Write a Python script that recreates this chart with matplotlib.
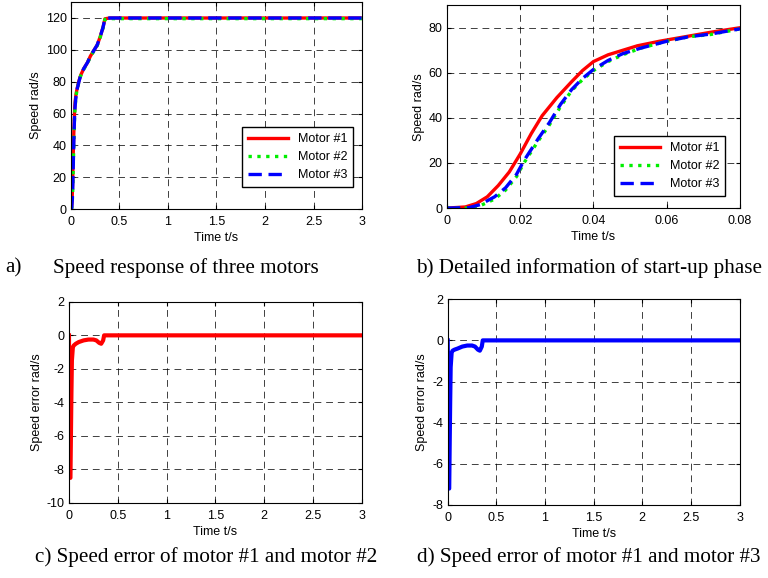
import numpy as np
import matplotlib.pyplot as plt

# start-up phase, motor #1 and motors #2/#3
t_m1 = [0, 0.005, 0.008, 0.011, 0.014, 0.017, 0.02, 0.023, 0.026, 0.03, 0.034, 0.037, 0.04,
        0.044, 0.048, 0.052, 0.058, 0.065, 0.072, 0.08]
v_m1 = [0, 0.5, 2, 5, 10, 16, 24, 33, 41, 49, 56, 61, 65, 68, 70, 72, 74, 76, 78, 80]
t_m2 = [0, 0.006, 0.009, 0.013, 0.016, 0.019, 0.021, 0.025, 0.028, 0.031, 0.034, 0.037, 0.04,
        0.044, 0.048, 0.053, 0.06, 0.066, 0.072, 0.08]
v_m2 = [0, 0, 1, 4, 8, 14, 20, 30, 37, 45, 52, 57, 61, 65, 68, 71, 74, 76, 77, 79.5]
v_m3 = [0, 0.2, 1.5, 5, 9, 15, 21, 31, 38, 46, 52.5, 57.5, 61.5, 65.5, 68.5, 71, 74, 76, 77.2, 79.5]

# rest of the run (panel a)
t_tail = [0.1, 0.13, 0.17, 0.2, 0.23, 0.27, 0.3, 0.33, 0.35, 0.4, 1, 2, 3]
v_tail = [84, 88, 92, 96, 99, 103, 108, 114, 119.5, 120, 120, 120, 120]

# speed errors (panels c and d)
t_err = [0, 0.003, 0.008, 0.015, 0.02, 0.025, 0.03, 0.04, 0.05, 0.07, 0.1, 0.15, 0.2, 0.25,
         0.28, 0.31, 0.33, 0.35, 0.36, 0.4, 1, 2, 3]
e_c = [0, -3, -8.5, -8.5, -6, -3.5, -1.5, -0.7, -0.6, -0.5, -0.4, -0.3, -0.25, -0.25,
       -0.3, -0.45, -0.5, -0.3, 0, 0, 0, 0, 0]
e_d = [0, -2, -7.2, -7.2, -5, -3, -1.3, -0.6, -0.5, -0.45, -0.4, -0.3, -0.25, -0.25,
       -0.3, -0.45, -0.5, -0.3, 0, 0, 0, 0, 0]

plt.rcParams['font.family'] = ['Liberation Sans', 'DejaVu Sans']
plt.rcParams['font.size'] = 9
plt.rcParams['axes.unicode_minus'] = False


def style(ax):
    ax.grid(True, color='black', linestyle=(0, (7, 5)), linewidth=0.7, alpha=0.75)
    ax.tick_params(direction='in', top=True, right=True, length=3, labelsize=9, pad=3)
    ax.tick_params(axis='x', pad=5)
    for s in ax.spines.values():
        s.set_linewidth(0.8)


fig = plt.figure(figsize=(7.68, 5.78), dpi=100)
leg = dict(fancybox=False, edgecolor='black', framealpha=1, handlelength=3.2,
           fontsize=9, borderpad=0.45, labelspacing=0.5, borderaxespad=0)
xt3 = ['0', '0.5', '1', '1.5', '2', '2.5', '3']

# a) full speed response
ax1 = fig.add_axes([0.0924, 0.6384, 0.379, 0.358])
ax1.plot(t_m1 + t_tail, v_m1 + v_tail, color='red', lw=2.4, label='Motor #1')
ax1.plot(t_m2 + t_tail, v_m2 + [v - 0.4 for v in v_tail], color='#00ee00', lw=2.4, ls=':', label='Motor #2')
ax1.plot(t_m2 + t_tail, v_m3 + v_tail, color='blue', lw=2.4, ls='--', dashes=(4, 2), label='Motor #3')
ax1.set_xlim(0, 3)
ax1.set_ylim(0, 130)
ax1.set_yticks(np.arange(0, 121, 20))
ax1.set_xticks(np.arange(0, 3.01, 0.5))
ax1.set_xticklabels(xt3)
ax1.set_xlabel('Time t/s', labelpad=3)
ax1.set_ylabel('Speed rad/s', labelpad=3)
style(ax1)
ax1.legend(loc='lower right', bbox_to_anchor=(0.969, 0.106), **leg)

# b) start-up detail
ax2 = fig.add_axes([0.582, 0.640, 0.3815, 0.351])
ax2.plot(t_m1, v_m1, color='red', lw=2.4, label='Motor #1')
ax2.plot(t_m2, v_m2, color='#00ee00', lw=2.4, ls=':', label='Motor #2')
ax2.plot(t_m2, v_m3, color='blue', lw=2.4, ls='--', dashes=(4, 2), label='Motor #3')
ax2.set_xlim(0, 0.08)
ax2.set_ylim(0, 90)
ax2.set_yticks([0, 20, 40, 60, 80])
ax2.set_xticks([0, 0.02, 0.04, 0.06, 0.08])
ax2.set_xticklabels(['0', '0.02', '0.04', '0.06', '0.08'])
ax2.set_xlabel('Time t/s', labelpad=3)
ax2.set_ylabel('Speed rad/s', labelpad=3)
style(ax2)
ax2.legend(loc='lower right', bbox_to_anchor=(0.949, 0.059), **leg)

# c) speed error, motor 1 vs 2
ax3 = fig.add_axes([0.0898, 0.1298, 0.3815, 0.348])
ax3.plot(t_err, e_c, color='red', lw=3)
ax3.set_xlim(0, 3)
ax3.set_ylim(-10, 2)
ax3.set_yticks(np.arange(-10, 3, 2))
ax3.set_xticks(np.arange(0, 3.01, 0.5))
ax3.set_xticklabels(xt3)
ax3.set_xlabel('Time t/s', labelpad=3)
ax3.set_ylabel('Speed error rad/s', labelpad=3)
style(ax3)

# d) speed error, motor 1 vs 3
ax4 = fig.add_axes([0.583, 0.1263, 0.380, 0.356])
ax4.plot(t_err, e_d, color='blue', lw=3)
ax4.set_xlim(0, 3)
ax4.set_ylim(-8, 2)
ax4.set_yticks(np.arange(-8, 3, 2))
ax4.set_xticks(np.arange(0, 3.01, 0.5))
ax4.set_xticklabels(xt3)
ax4.set_xlabel('Time t/s', labelpad=3)
ax4.set_ylabel('Speed error rad/s', labelpad=3)
style(ax4)

cap = dict(family='Liberation Serif', fontsize=15.2, va='center')
fig.text(5 / 768, 1 - 268 / 578, 'a)', **cap)
fig.text(53 / 768, 1 - 268 / 578, 'Speed response of three motors', **cap)
fig.text(416 / 768, 1 - 268 / 578, 'b) Detailed information of start-up phase', **cap)
fig.text(35 / 768, 1 - 557 / 578, 'c) Speed error of motor #1 and motor #2', **cap)
fig.text(417 / 768, 1 - 557 / 578, 'd) Speed error of motor #1 and motor #3', **cap)

fig.savefig('out.png', dpi=100)
